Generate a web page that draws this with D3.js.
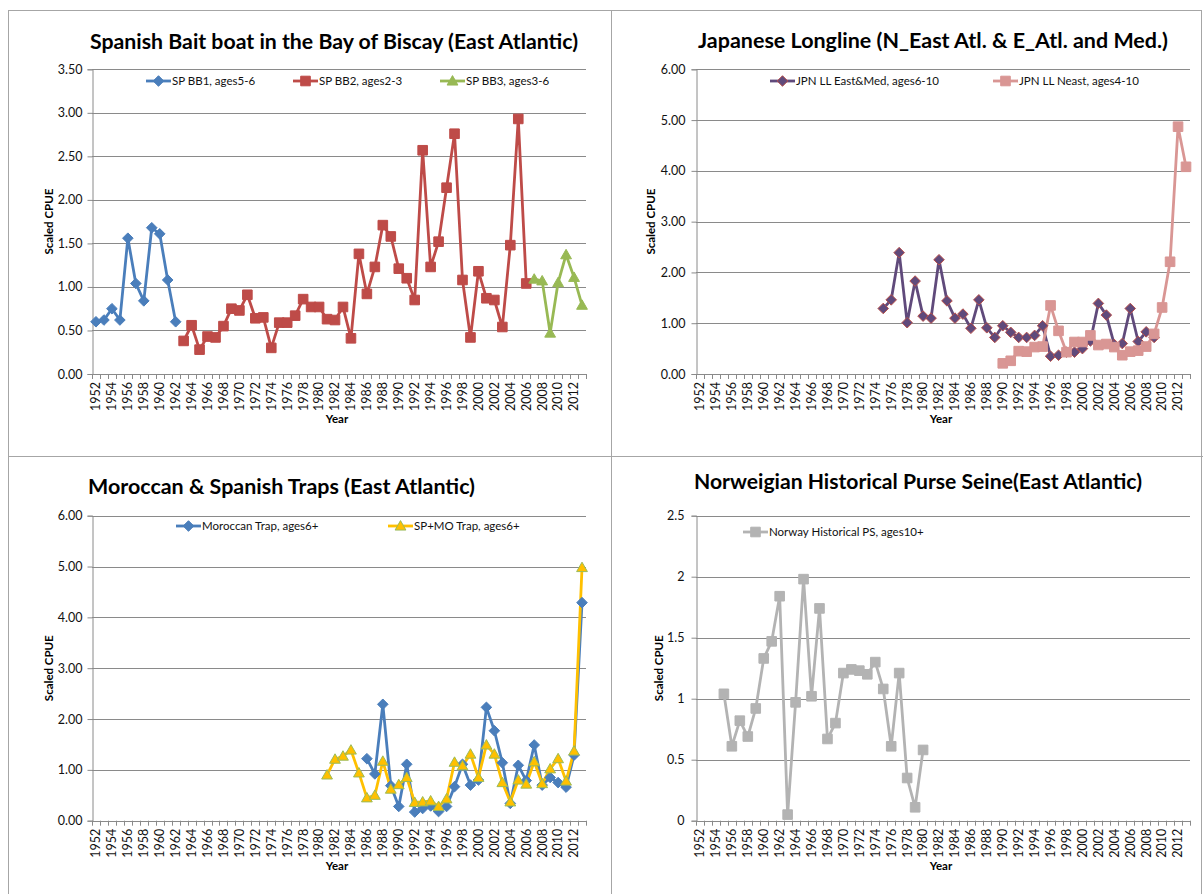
<!DOCTYPE html>
<html><head><meta charset="utf-8">
<script src="https://cdn.jsdelivr.net/npm/d3@7/dist/d3.min.js"></script>
<style>
body{margin:0;background:#fff}
svg{display:block}
text{font-family:Lato,"Open Sans","DejaVu Sans",sans-serif;fill:#1a1a1a}
</style>
</head><body>
<svg id="c" width="1203" height="894"></svg>
<script>
// ---------- categories ----------
const years = [1952,1953,1954,1955,1956,1957,1958,1959,1960,1961,1962,1963,1964,1965,1966,1967,1968,1969,1970,1971,
1972,1973,1974,1975,1976,1977,1978,1979,1980,1981,1982,1983,1984,1985,1986,1987,1988,1989,1990,1991,
1992,1993,1994,1995,1996,1997,1998,1999,2000,2001,2002,2003,2004,2005,2006,2007,2008,2009,2010,2011,2012,2013];
const yearTickLabels = years.filter(y => y % 2 === 0);

// ---------- series values ----------
const bb1Start = 1952;
const bb1 = [0.60,0.62,0.75,0.62,1.56,1.04,0.84,1.68,1.61,1.08,0.60];
const bb2Start = 1963;
const bb2 = [0.38,0.56,0.28,0.43,0.42,0.55,0.75,0.73,0.91,0.64,0.65,0.30,0.59,0.59,0.67,0.86,0.77,0.77,0.63,0.62,
0.77,0.41,1.38,0.92,1.23,1.71,1.58,1.21,1.10,0.85,2.57,1.23,1.52,2.14,2.76,1.08,0.42,1.18,0.87,0.85,0.54,1.48,2.93,1.04];
const bb3Start = 2007;
const bb3 = [1.09,1.07,0.47,1.05,1.37,1.11,0.79];

const jpnEMStart = 1975;
const jpnEM = [1.29,1.46,2.39,1.01,1.83,1.14,1.10,2.25,1.44,1.10,1.18,0.90,1.46,0.91,0.72,0.95,0.82,0.72,0.72,0.76,
0.95,0.35,0.37,0.43,0.43,0.50,0.65,1.39,1.16,0.58,0.60,1.29,0.64,0.83,0.72];
const jpnNEStart = 1990;
const jpnNE = [0.21,0.26,0.45,0.44,0.53,0.54,1.35,0.85,0.43,0.63,0.63,0.76,0.57,0.59,0.53,0.37,0.44,0.46,0.54,0.79,
1.31,2.21,4.87,4.08];

const morStart = 1986;
const mor = [1.22,0.92,2.29,0.69,0.28,1.11,0.17,0.24,0.29,0.18,0.28,0.67,1.11,0.70,0.80,2.23,1.77,1.14,0.34,1.09,
0.79,1.49,0.70,0.85,0.75,0.66,1.29,4.29];
const spmoStart = 1981;
const spmo = [0.90,1.21,1.27,1.39,0.94,0.45,0.50,1.17,0.62,0.71,0.85,0.36,0.37,0.39,0.28,0.43,1.15,1.08,1.31,0.85,
1.49,1.31,0.75,0.37,0.80,0.72,1.16,0.73,1.02,1.22,0.78,1.37,4.98];

const norStart = 1955;
const nor = [1.04,0.61,0.82,0.69,0.92,1.33,1.47,1.84,0.05,0.97,1.98,1.02,1.74,0.67,0.80,1.21,1.24,1.23,1.20,1.30,
1.08,0.61,1.21,0.35,0.11,0.58];

// ---------- tick labels ----------
const yTicks1 = [0,0.5,1,1.5,2,2.5,3,3.5];
const yTicks2 = [0,1,2,3,4,5,6];
const yTicks3 = [0,1,2,3,4,5,6];
const yTicks4 = [0,0.5,1,1.5,2,2.5];

// ---------- titles / names ----------
const titles = ["Spanish Bait boat in the Bay of Biscay (East Atlantic)",
  "Japanese Longline (N_East Atl. & E_Atl. and Med.)",
  "Moroccan & Spanish Traps (East Atlantic)",
  "Norweigian Historical Purse Seine(East Atlantic)"];

function toPts(start, vals){ return vals.map((v,i)=>({year:start+i, v})); }

const styles = {
  bb1:{line:"#4a7ebb", fill:"#4a7ebb", stroke:"#4a7ebb", shape:"diamond"},
  bb2:{line:"#be4b48", fill:"#be4b48", stroke:"#be4b48", shape:"square"},
  bb3:{line:"#98b954", fill:"#98b954", stroke:"#98b954", shape:"triangle"},
  jem:{line:"#604a7b", fill:"#604a7b", stroke:"#b8504c", shape:"diamond"},
  jne:{line:"#d99694", fill:"#d99694", stroke:"#d99694", shape:"square"},
  mor:{line:"#4a7ebb", fill:"#4a7ebb", stroke:"#4a7ebb", shape:"diamond"},
  spm:{line:"#ffc000", fill:"#ffc000", stroke:"#9bbb59", shape:"triangle"},
  nor:{line:"#b3b3b3", fill:"#b3b3b3", stroke:"#b3b3b3", shape:"square"}
};

const panels = [
  {title:titles[0], tx:90, ty:49, tw:488, left:92, right:586, top:69.3, bottom:374, yTicks:yTicks1, fmt:d3.format(".2f"), labX:82, yTitleX:49,
   series:[{name:"SP BB1, ages5-6", pts:toPts(bb1Start,bb1), st:styles.bb1, lx:146, ly:81},
           {name:"SP BB2, ages2-3", pts:toPts(bb2Start,bb2), st:styles.bb2, lx:293, ly:81},
           {name:"SP BB3, ages3-6", pts:toPts(bb3Start,bb3), st:styles.bb3, lx:440, ly:81}]},
  {title:titles[1], tx:698, ty:48, tw:470, left:696, right:1190, top:69.3, bottom:374, yTicks:yTicks2, fmt:d3.format(".2f"), labX:685, yTitleX:651,
   series:[{name:"JPN LL East&Med, ages6-10", pts:toPts(jpnEMStart,jpnEM), st:styles.jem, lx:770, ly:81},
           {name:"JPN LL Neast, ages4-10", pts:toPts(jpnNEStart,jpnNE), st:styles.jne, lx:993, ly:81}]},
  {title:titles[2], tx:88, ty:494, tw:387, left:92, right:586, top:515.7, bottom:820.7, yTicks:yTicks3, fmt:d3.format(".2f"), labX:82, yTitleX:49,
   series:[{name:"Moroccan Trap, ages6+", pts:toPts(morStart,mor), st:styles.mor, lx:176, ly:526},
           {name:"SP+MO Trap, ages6+", pts:toPts(spmoStart,spmo), st:styles.spm, lx:388, ly:526}]},
  {title:titles[3], tx:694, ty:489, tw:448, left:696, right:1190, top:515.7, bottom:820.7, yTicks:yTicks4, fmt:d => String(d), labX:684, yTitleX:659,
   series:[{name:"Norway Historical PS, ages10+", pts:toPts(norStart,nor), st:styles.nor, lx:743, ly:532}]}
];

const svg = d3.select("#c");
const gridCol = "#8a8a8a";

// panel frames
const frameCol = "#a6a6a6";
svg.append("rect").attr("x",8.5).attr("y",10.5).attr("width",1193).attr("height",900)
  .attr("fill","none").attr("stroke",frameCol);
svg.append("line").attr("x1",611.5).attr("x2",611.5).attr("y1",10).attr("y2",894).attr("stroke",frameCol);
svg.append("line").attr("x1",8).attr("x2",1203).attr("y1",456.5).attr("y2",456.5).attr("stroke",frameCol);

function marker(g, shape, x, y, st){
  let p;
  if(shape==="diamond"){ const r=5.3; p=`M${x},${y-r}L${x+r},${y}L${x},${y+r}L${x-r},${y}Z`; }
  else if(shape==="square"){ const r=4.8; p=`M${x-r},${y-r}h${2*r}v${2*r}h${-2*r}Z`; }
  else { const r=5.4; p=`M${x},${y-r}L${x+r},${y+r*0.75}L${x-r},${y+r*0.75}Z`; }
  g.append("path").attr("d",p).attr("fill",st.fill).attr("stroke",st.stroke).attr("stroke-width",1);
}

panels.forEach(P=>{
  const g = svg.append("g");
  const x = d3.scaleBand().domain(years).range([P.left,P.right]).padding(0);
  const xc = yr => x(yr) + x.bandwidth()/2;
  const y = d3.scaleLinear().domain([0, d3.max(P.yTicks)]).range([P.bottom,P.top]);

  // title
  g.append("text").attr("x",P.tx).attr("y",P.ty).attr("font-size",21).attr("font-weight","bold")
    .attr("textLength",P.tw).attr("lengthAdjust","spacingAndGlyphs").style("fill","#000").text(P.title);

  // gridlines
  g.selectAll(".grid").data(P.yTicks.filter(t=>t>0)).join("line")
    .attr("x1",P.left).attr("x2",P.right).attr("y1",d=>Math.round(y(d))+0.5).attr("y2",d=>Math.round(y(d))+0.5)
    .attr("stroke",gridCol).attr("stroke-width",1);

  // y axis
  const yAx = d3.axisLeft(y).tickValues(P.yTicks).tickSize(5).tickFormat(P.fmt);
  const ya = g.append("g").attr("transform",`translate(${Math.round(P.left)+0.5},0)`).call(yAx);
  ya.select(".domain").attr("stroke",gridCol);
  ya.selectAll(".tick line").attr("stroke",gridCol);
  ya.selectAll(".tick text").attr("x",-(P.left-P.labX)).attr("font-size",12.5)
    .style("font-family","Lato, 'Open Sans', sans-serif").style("fill","#111");

  // x axis (category boundaries ticks)
  const xa = g.append("g");
  xa.append("line").attr("x1",P.left).attr("x2",P.right).attr("y1",Math.round(P.bottom)+0.5).attr("y2",Math.round(P.bottom)+0.5).attr("stroke",gridCol);
  const bounds = years.map(yr=>x(yr)).concat([P.right]);
  xa.selectAll(".xt").data(bounds).join("line")
    .attr("x1",d=>Math.round(d)+0.5).attr("x2",d=>Math.round(d)+0.5)
    .attr("y1",P.bottom).attr("y2",P.bottom+5).attr("stroke",gridCol);
  xa.selectAll(".xl").data(yearTickLabels).join("text")
    .attr("transform",d=>`translate(${xc(d)},${P.bottom+8}) rotate(-90)`)
    .attr("text-anchor","end").attr("dy","0.35em").attr("font-size",12.5).style("fill","#111").text(d=>d);

  // axis titles
  g.append("text").attr("transform",`translate(${P.yTitleX},${(P.top+P.bottom)/2}) rotate(-90)`)
    .attr("text-anchor","middle").attr("dy","0.35em").attr("font-size",11.5).attr("font-weight","bold").style("fill","#000").text("Scaled CPUE");
  g.append("text").attr("x",(P.left+P.right)/2 - 2).attr("y",P.bottom+49).attr("text-anchor","middle")
    .attr("font-size",11.5).attr("font-weight","bold").style("fill","#000").text("Year");

  // series
  const line = d3.line().x(d=>xc(d.year)).y(d=>y(d.v));
  P.series.forEach(s=>{
    g.append("path").attr("d",line(s.pts)).attr("fill","none").attr("stroke",s.st.line)
      .attr("stroke-width",2.8).attr("stroke-linejoin","round");
  });
  P.series.forEach(s=>{
    s.pts.forEach(d=>marker(g, s.st.shape, xc(d.year), y(d.v), s.st));
  });

  // legend
  P.series.forEach(s=>{
    g.append("line").attr("x1",s.lx).attr("x2",s.lx+25).attr("y1",s.ly).attr("y2",s.ly)
      .attr("stroke",s.st.line).attr("stroke-width",2.8);
    marker(g, s.st.shape, s.lx+12.5, s.ly, s.st);
    g.append("text").attr("x",s.lx+26).attr("y",s.ly).attr("dy","0.35em").attr("font-size",11.5).style("fill","#111").text(s.name);
  });
});
</script>
</body></html>
